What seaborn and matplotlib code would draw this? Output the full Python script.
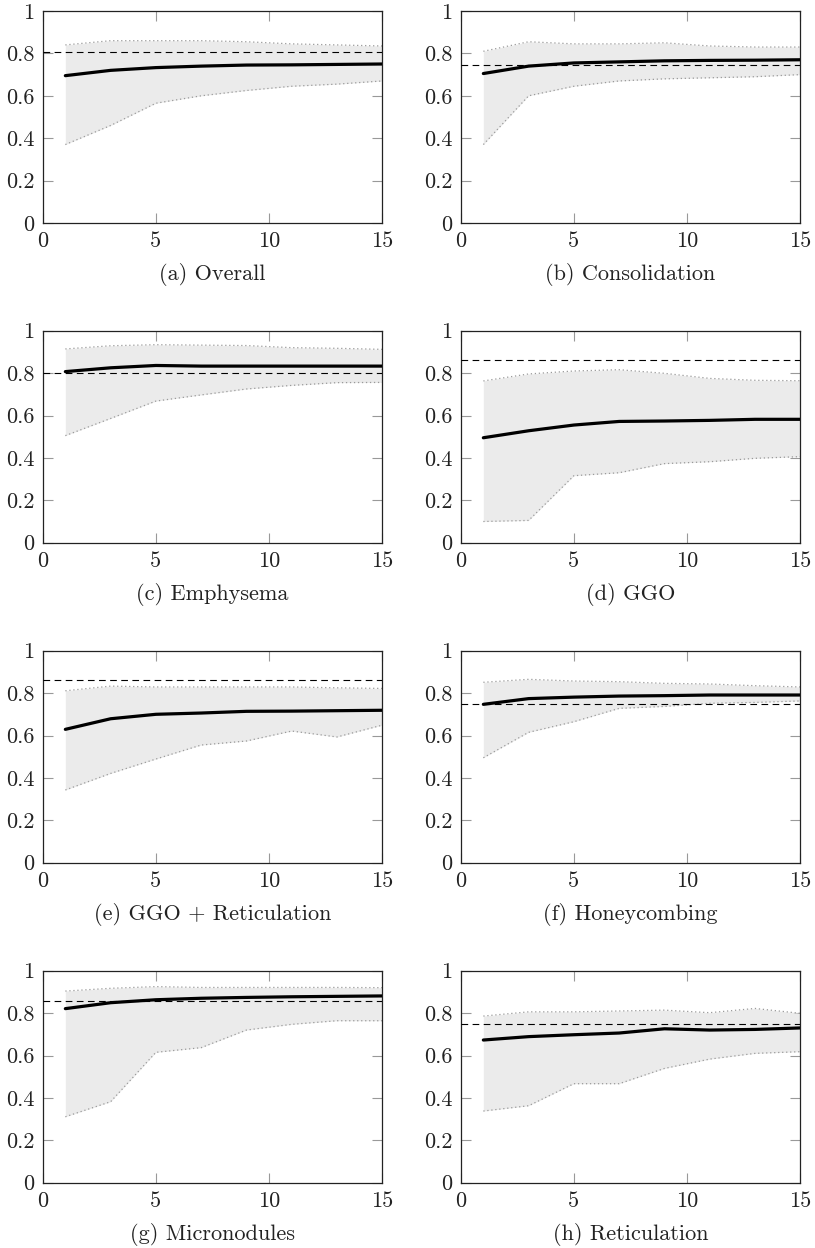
import matplotlib
matplotlib.use("Agg")
import matplotlib.pyplot as plt
import seaborn as sns
import numpy as np
import pandas as pd

# ---- data ----
x_vals = [1, 3, 5, 7, 9, 11, 13, 15]
captions = ["(a) Overall", "(b) Consolidation", "(c) Emphysema", "(d) GGO",
            "(e) GGO + Reticulation", "(f) Honeycombing", "(g) Micronodules",
            "(h) Reticulation"]

mean_overall = [0.695, 0.72, 0.733, 0.740, 0.745, 0.746, 0.748, 0.750]
upper_overall = [0.84, 0.86, 0.86, 0.86, 0.855, 0.845, 0.84, 0.835]
lower_overall = [0.37, 0.46, 0.565, 0.60, 0.625, 0.645, 0.655, 0.67]
ref_overall = 0.805

mean_consol = [0.705, 0.74, 0.755, 0.760, 0.765, 0.767, 0.768, 0.770]
upper_consol = [0.81, 0.855, 0.845, 0.845, 0.85, 0.835, 0.83, 0.83]
lower_consol = [0.37, 0.60, 0.645, 0.67, 0.68, 0.685, 0.69, 0.70]
ref_consol = 0.745

mean_emph = [0.807, 0.825, 0.836, 0.833, 0.833, 0.833, 0.833, 0.833]
upper_emph = [0.914, 0.929, 0.934, 0.932, 0.93, 0.92, 0.917, 0.912]
lower_emph = [0.505, 0.586, 0.668, 0.697, 0.725, 0.742, 0.755, 0.756]
ref_emph = 0.802

mean_ggo = [0.495, 0.528, 0.555, 0.572, 0.574, 0.577, 0.582, 0.582]
upper_ggo = [0.763, 0.796, 0.81, 0.816, 0.799, 0.775, 0.766, 0.764]
lower_ggo = [0.10, 0.105, 0.316, 0.33, 0.373, 0.382, 0.398, 0.406]
ref_ggo = 0.860

mean_ggoret = [0.629, 0.679, 0.700, 0.706, 0.714, 0.715, 0.717, 0.719]
upper_ggoret = [0.811, 0.833, 0.829, 0.829, 0.829, 0.829, 0.825, 0.822]
lower_ggoret = [0.343, 0.421, 0.489, 0.555, 0.574, 0.621, 0.593, 0.649]
ref_ggoret = 0.860

mean_honey = [0.747, 0.774, 0.781, 0.786, 0.788, 0.791, 0.791, 0.791]
upper_honey = [0.851, 0.865, 0.857, 0.854, 0.846, 0.843, 0.835, 0.829]
lower_honey = [0.495, 0.615, 0.665, 0.728, 0.737, 0.752, 0.756, 0.763]
ref_honey = 0.747

mean_micro = [0.821, 0.849, 0.863, 0.870, 0.874, 0.877, 0.879, 0.881]
upper_micro = [0.904, 0.917, 0.925, 0.921, 0.921, 0.921, 0.921, 0.920]
lower_micro = [0.311, 0.382, 0.615, 0.637, 0.720, 0.747, 0.764, 0.764]
ref_micro = 0.858

mean_retic = [0.673, 0.689, 0.698, 0.706, 0.726, 0.720, 0.723, 0.730]
upper_retic = [0.786, 0.806, 0.806, 0.810, 0.814, 0.802, 0.822, 0.799]
lower_retic = [0.338, 0.363, 0.467, 0.467, 0.539, 0.583, 0.610, 0.618]
ref_retic = 0.747

means = [mean_overall, mean_consol, mean_emph, mean_ggo, mean_ggoret, mean_honey, mean_micro, mean_retic]
uppers = [upper_overall, upper_consol, upper_emph, upper_ggo, upper_ggoret, upper_honey, upper_micro, upper_retic]
lowers = [lower_overall, lower_consol, lower_emph, lower_ggo, lower_ggoret, lower_honey, lower_micro, lower_retic]
refs = [ref_overall, ref_consol, ref_emph, ref_ggo, ref_ggoret, ref_honey, ref_micro, ref_retic]

xticks = [0, 5, 10, 15]
xtick_labels = ["0", "5", "10", "15"]
yticks = [0, 0.2, 0.4, 0.6, 0.8, 1]
ytick_labels = ["0", "0.2", "0.4", "0.6", "0.8", "1"]

# ---- style ----
sns.set_style("ticks")
plt.rcParams['font.family'] = ['cmr10', 'DejaVu Serif']
plt.rcParams['axes.formatter.use_mathtext'] = True
plt.rcParams['mathtext.fontset'] = 'cm'

W, H = 815, 1248
fig = plt.figure(figsize=(W / 100, H / 100), dpi=100)

col_left = [42.7, 460.7]
ax_w = 339.6
ax_h = 212.0
row_top = [11.0, 330.7, 650.7, 970.7]

for i in range(8):
    r, c = divmod(i, 2)
    left = col_left[c] / W
    bottom = 1 - (row_top[r] + ax_h) / H
    ax = fig.add_axes([left, bottom, ax_w / W, ax_h / H])
    df = pd.DataFrame({"x": x_vals, "mean": means[i], "upper": uppers[i], "lower": lowers[i]})
    ax.fill_between(df["x"], df["lower"], df["upper"], color="#ebebeb", lw=0, zorder=1)
    sns.lineplot(data=df, x="x", y="upper", ax=ax, color="#9a9a9a", lw=0.9,
                 linestyle=(0, (1, 2.2)), zorder=2)
    sns.lineplot(data=df, x="x", y="lower", ax=ax, color="#9a9a9a", lw=0.9,
                 linestyle=(0, (1, 2.2)), zorder=2)
    ax.axhline(refs[i], color="black", lw=0.8, linestyle=(0, (6, 4)), zorder=3)
    sns.lineplot(data=df, x="x", y="mean", ax=ax, color="black", lw=2.3, zorder=4)
    ax.set_xlim(0, 15)
    ax.set_ylim(0, 1)
    ax.set_xticks(xticks)
    ax.set_xticklabels(xtick_labels)
    ax.set_yticks(yticks)
    ax.set_yticklabels(ytick_labels)
    ax.set_xlabel("")
    ax.set_ylabel("")
    ax.tick_params(direction="in", top=True, right=True, length=7, width=0.8,
                   color="#999999", labelsize=16, pad=6, labelcolor="#222222")
    for s in ax.spines.values():
        s.set_visible(True)
        s.set_color("#222222")
        s.set_linewidth(0.9)
    ax.text(0.5, -0.245, captions[i], transform=ax.transAxes, ha="center",
            va="center", fontsize=16, color="#222222")

fig.savefig("out.png", dpi=100)
